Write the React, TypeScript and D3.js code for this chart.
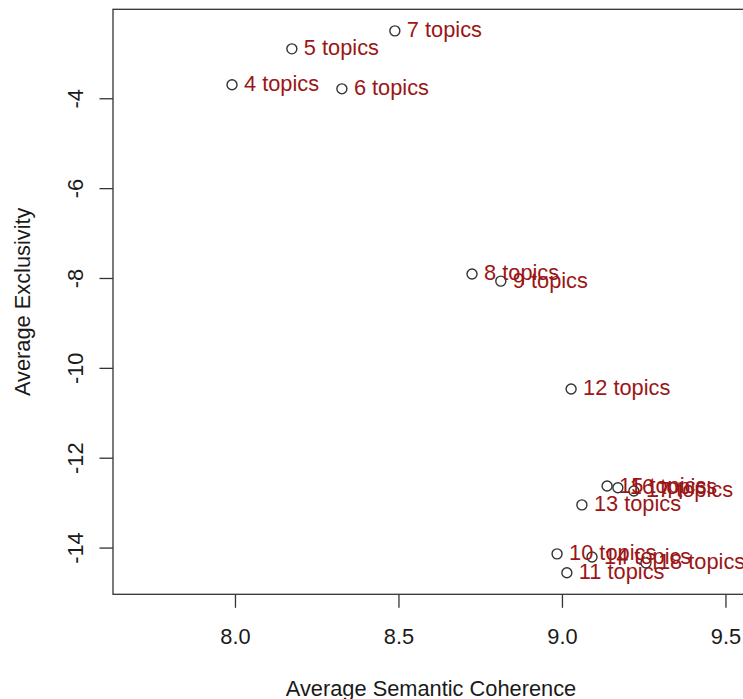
import React, { useEffect, useRef } from "react";
import * as d3 from "d3";

// number of topics per model
const topics = [4, 5, 6, 7, 8, 9, 10, 11, 12, 13, 14, 15, 16, 17, 18];
// average semantic coherence (x)
const coherence = [
  7.991, 8.174, 8.327, 8.489, 8.725, 8.813, 8.985, 9.015, 9.028, 9.061, 9.092,
  9.138, 9.171, 9.22, 9.257,
];
// average exclusivity (y)
const exclusivity = [
  -3.7, -2.9, -3.79, -2.5, -7.91, -8.07, -14.14, -14.56, -10.47, -13.05,
  -14.21, -12.63, -12.67, -12.74, -14.34,
];
const xTicks = [8.0, 8.5, 9.0, 9.5];
const yTicks = [-14, -12, -10, -8, -6, -4];

const W = 743;
const H = 699;
const FONT = "'Liberation Sans', Arial, Helvetica, sans-serif";
const FS = "21.8px";

export default function App() {
  const ref = useRef<SVGSVGElement>(null);

  useEffect(() => {
    const svg = d3.select(ref.current);
    svg.selectAll("*").remove();

    const left = 113;
    const top = 9.3;
    const bottom = 594.3;

    const x = d3.scaleLinear().domain([7.627, 9.65]).range([left, 774.5]);
    const y = d3.scaleLinear().domain([-15.04, -2.02]).range([bottom, top]);

    const data = topics.map((t, i) => ({
      k: t,
      cx: coherence[i],
      ex: exclusivity[i],
    }));

    // y axis
    const yAxisG = svg
      .append("g")
      .attr("transform", `translate(${left},0)`)
      .call(
        d3
          .axisLeft(y)
          .tickValues(yTicks)
          .tickSize(13.5)
          .tickFormat((d) => d3.format("d")(d as number).replace("−", "-"))
      );
    yAxisG.select(".domain").remove();
    yAxisG.selectAll("line").attr("stroke", "#333").attr("stroke-width", 1.3);
    yAxisG
      .selectAll("text")
      .attr("x", 0)
      .attr("y", -38)
      .attr("dy", null)
      .attr("transform", "rotate(-90)")
      .attr("text-anchor", "middle")
      .attr("dominant-baseline", "central")
      .attr("fill", "#1a1a1a")
      .style("font-size", FS)
      .style("font-family", FONT);

    // x axis
    const xAxisG = svg
      .append("g")
      .attr("transform", `translate(0,${bottom})`)
      .call(
        d3
          .axisBottom(x)
          .tickValues(xTicks)
          .tickSize(13.5)
          .tickFormat(d3.format(".1f"))
      );
    xAxisG.select(".domain").remove();
    xAxisG.selectAll("line").attr("stroke", "#333").attr("stroke-width", 1.3);
    xAxisG
      .selectAll("text")
      .attr("y", 42)
      .attr("dy", null)
      .attr("dominant-baseline", "central")
      .attr("fill", "#1a1a1a")
      .style("font-size", FS)
      .style("font-family", FONT);

    // plot box
    svg
      .append("rect")
      .attr("x", left)
      .attr("y", top)
      .attr("width", x.range()[1] - left)
      .attr("height", bottom - top)
      .attr("fill", "none")
      .attr("stroke", "#333")
      .attr("stroke-width", 1.3);

    // axis titles
    svg
      .append("text")
      .attr("x", 431)
      .attr("y", 688)
      .attr("text-anchor", "middle")
      .attr("dominant-baseline", "central")
      .attr("fill", "#1a1a1a")
      .style("font-size", FS)
      .style("font-family", FONT)
      .text("Average Semantic Coherence");

    svg
      .append("text")
      .attr("transform", `translate(22,${(top + bottom) / 2}) rotate(-90)`)
      .attr("text-anchor", "middle")
      .attr("dominant-baseline", "central")
      .attr("fill", "#1a1a1a")
      .style("font-size", FS)
      .style("font-family", FONT)
      .text("Average Exclusivity");

    // points
    svg
      .append("g")
      .selectAll("circle")
      .data(data)
      .enter()
      .append("circle")
      .attr("cx", (d) => x(d.cx))
      .attr("cy", (d) => y(d.ex))
      .attr("r", 5)
      .attr("fill", "none")
      .attr("stroke", "#333")
      .attr("stroke-width", 1.4);

    // labels
    svg
      .append("g")
      .selectAll("text")
      .data(data)
      .enter()
      .append("text")
      .attr("x", (d) => x(d.cx) + 12)
      .attr("y", (d) => y(d.ex) - 1)
      .attr("dominant-baseline", "central")
      .attr("fill", "#9b1616")
      .style("font-size", FS)
      .style("font-family", FONT)
      .text((d) => `${d.k} topics`);
  }, []);

  return (
    <svg
      ref={ref}
      width={W}
      height={H}
      style={{ position: "absolute", left: 0, top: 0, background: "#fff" }}
    ></svg>
  );
}
